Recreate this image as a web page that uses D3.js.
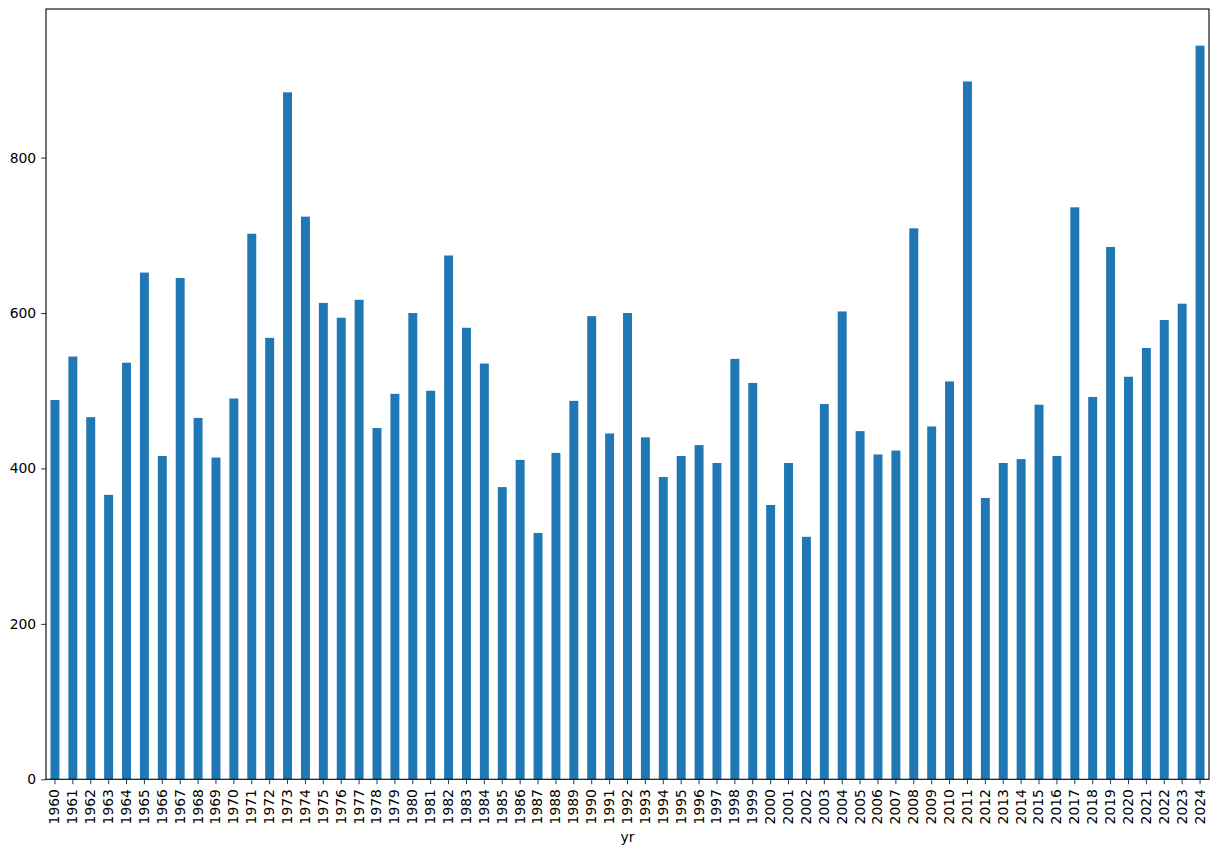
<!DOCTYPE html>
<meta charset="utf-8">
<head>
<style>
body { margin: 0; background: white; }
text { font-family: "DejaVu Sans", sans-serif; }
</style>
</head>
<script src="https://d3js.org/d3.v7.min.js"></script>
<div id="chart"></div>
<script>

// yearly values
var years = d3.range(1960, 2025).map(String);
var values = [
  488, 544, 466, 366, 536, 652, 416, 645, 465, 414,
  490, 702, 568, 884, 724, 613, 594, 617, 452, 496,
  600, 500, 674, 581, 535, 376, 411, 317, 420, 487,
  596, 445, 600, 440, 389, 416, 430, 407, 541, 510,
  353, 407, 312, 483, 602, 448, 418, 423, 709, 454,
  512, 898, 362, 407, 412, 482, 416, 736, 492, 685,
  518, 555, 591, 612, 944
];
var yTicks = [0, 200, 400, 600, 800];

var W = 1218, H = 854;
var margin = {top: 9, right: 9, bottom: 74.7, left: 46},
    width = W - margin.left - margin.right,
    height = H - margin.top - margin.bottom;

var svg = d3.select("#chart")
  .append("svg")
    .attr("width", W)
    .attr("height", H)
  .append("g")
    .attr("transform", "translate(" + margin.left + "," + margin.top + ")");

var x = d3.scaleBand()
  .domain(years)
  .range([0, width])
  .paddingInner(0.5)
  .paddingOuter(0.25);

var y = d3.scaleLinear()
  .domain([0, d3.max(values) * 1.05])
  .range([height, 0]);

// bars
svg.selectAll("rect.bar")
  .data(years)
  .enter()
  .append("rect")
    .attr("class", "bar")
    .attr("x", function(d) { return x(d); })
    .attr("y", function(d, i) { return y(values[i]); })
    .attr("width", x.bandwidth())
    .attr("height", function(d, i) { return height - y(values[i]); })
    .attr("fill", "#1f77b4");

// x axis
var xAxis = svg.append("g")
  .attr("transform", "translate(0," + height + ")")
  .call(d3.axisBottom(x).tickSize(4.9).tickPadding(4.9));
xAxis.select(".domain").remove();
xAxis.selectAll("line").attr("stroke", "black").attr("stroke-width", 0.8);
xAxis.selectAll("text")
  .style("font-size", "13.9px")
  .style("font-family", "DejaVu Sans")
  .attr("fill", "black")
  .attr("y", 0)
  .attr("x", -9.8)
  .attr("dy", "0.32em")
  .attr("transform", "rotate(-90)")
  .style("text-anchor", "end");

// y axis
var yAxis = svg.append("g")
  .call(d3.axisLeft(y).tickValues(yTicks).tickSize(4.9).tickPadding(4.9));
yAxis.select(".domain").remove();
yAxis.selectAll("line").attr("stroke", "black").attr("stroke-width", 0.8);
yAxis.selectAll("text")
  .style("font-size", "13.9px")
  .style("font-family", "DejaVu Sans")
  .attr("fill", "black");

// frame
svg.append("rect")
  .attr("x", 0)
  .attr("y", 0)
  .attr("width", width)
  .attr("height", height)
  .attr("fill", "none")
  .attr("stroke", "black")
  .attr("stroke-width", 1.1);

// axis label
svg.append("text")
  .attr("x", width / 2)
  .attr("y", height + 63)
  .style("text-anchor", "middle")
  .style("font-size", "13.9px")
  .text("yr");

</script>
